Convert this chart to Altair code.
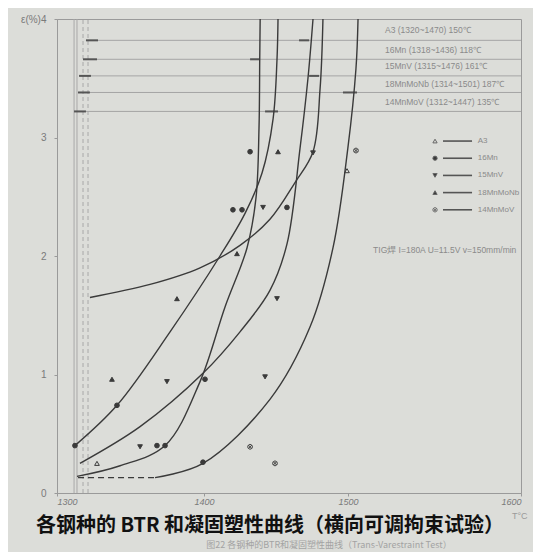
import altair as alt
import pandas as pd

# ---------------- data ----------------
# x: temperature T (°C), y: strain ε (%)
curve_a_T = [1312.2, 1340.8, 1376.9, 1411.1, 1428.5, 1440.3, 1448.0, 1450.7, 1451.4]
curve_a_e = [0.40, 0.74, 1.36, 2.00, 2.36, 2.70, 3.16, 3.66, 4.00]
curve_b_T = [1322.4, 1363.3, 1397.3, 1425.0, 1445.8, 1463.2, 1475.7, 1480.6, 1482.6]
curve_b_e = [1.65, 1.76, 1.90, 2.09, 2.31, 2.62, 2.88, 3.41, 4.00]
curve_c_T = [1315.6, 1356.5, 1399.3, 1425.0, 1445.8, 1457.6, 1466.7, 1472.2, 1475.7]
curve_c_e = [0.25, 0.56, 1.01, 1.36, 1.71, 2.10, 2.91, 3.50, 4.00]
curve_d_T = [1313.6, 1342.9, 1373.5, 1397.3, 1414.6, 1429.9, 1436.1, 1438.2, 1438.7, 1439.0]
curve_d_e = [0.14, 0.23, 0.40, 0.94, 1.57, 2.07, 2.49, 3.08, 3.66, 4.00]
curve_e_T = [1366.7, 1399.3, 1445.8, 1473.6, 1489.6, 1499.9, 1504.6, 1505.8]
curve_e_e = [0.13, 0.25, 0.79, 1.40, 2.07, 2.91, 3.58, 4.00]
dash_T = [1314.3, 1366.7]
dash_e = [0.13, 0.13]

series = ["A3", "16Mn", "15MnV", "18MnMoNb", "14MnMoV"]
pts_series = (["A3"] * 2 + ["16Mn"] * 10 + ["15MnV"] * 6 + ["18MnMoNb"] * 4 + ["14MnMoV"] * 3)
pts_T = [1327.2, 1499.3,
         1340.8, 1400.7, 1368.0, 1373.5, 1399.3, 1432.0, 1420.1, 1426.4, 1457.6, 1312.2,
         1374.8, 1442.4, 1356.5, 1475.7, 1450.7, 1441.0,
         1337.4, 1381.6, 1422.9, 1451.4,
         1432.0, 1504.6, 1449.3]
pts_e = [0.25, 2.72,
         0.74, 0.96, 0.40, 0.40, 0.26, 2.88, 2.39, 2.39, 2.41, 0.40,
         0.94, 0.98, 0.39, 2.87, 1.64, 2.41,
         0.96, 1.64, 2.02, 2.88,
         0.39, 2.89, 0.25]

# solidus marks (vertical lines)
sol_T = [1311.6, 1313.6, 1317.7, 1321.1]
sol_dash = [False, False, True, True]

# BTR rows
btr_e = [3.82, 3.66, 3.52, 3.38, 3.22]
btr_start1 = [1319.7, 1317.7, 1315.0, 1314.3, 1311.6]
btr_start2 = [1327.9, 1327.2, 1323.1, 1322.4, 1319.7]
btr_end1 = [1466.0, 1432.0, 1473.0, 1496.5, 1442.4]
btr_end2 = [1473.0, 1438.9, 1479.9, 1505.2, 1451.4]
btr_text = ["A3  (1320~1470)  150℃",
            "16Mn  (1318~1436)  118℃",
            "15MnV  (1315~1476)  161℃",
            "18MnMoNb  (1314~1501)  187℃",
            "14MnMoV  (1312~1447)  135℃"]
btr_text_e = [3.91, 3.74, 3.60, 3.45, 3.30]

note_text = "TIG焊  I=180A  U=11.5V  v=150mm/min"
caption = "各钢种的 BTR 和凝固塑性曲线（横向可调拘束试验）"
subcaption = "图22   各钢种的BTR和凝固塑性曲线（Trans-Varestraint  Test）"

x_ticks = [1300, 1400, 1500, 1600]
y_ticks = [0, 1, 2, 3, 4]

# ---------------- styling ----------------
BG = "#dcddd9"
INK = "#3a3a3a"
GREY = "#9a9a9a"
shapes = ["triangle-up", "circle", "triangle-down", "triangle-up",
          "M-1,0A1,1 0 1,0 1,0A1,1 0 1,0 -1,0M-0.7,-0.7L0.7,0.7M-0.7,0.7L0.7,-0.7"]
fills = ["transparent", INK, INK, INK, "transparent"]

H = 474
xscale = alt.Scale(domain=[1300, 1400, 1500, 1600], range=[0, 147, 291, 464], nice=False, zero=False)
yscale = alt.Scale(domain=[0, 4], nice=False, zero=False)

def X(f, **kw):
    return alt.X(f, scale=xscale, **kw)

def Y(f, **kw):
    return alt.Y(f, scale=yscale, **kw)

curves = []
for name, T, e in [("a", curve_a_T, curve_a_e), ("b", curve_b_T, curve_b_e),
                   ("c", curve_c_T, curve_c_e), ("d", curve_d_T, curve_d_e),
                   ("e", curve_e_T, curve_e_e)]:
    for i, (t, v) in enumerate(zip(T, e)):
        curves.append({"curve": name, "T": t, "e": v, "i": i})
curves_df = pd.DataFrame(curves)
dash_df = pd.DataFrame({"T": dash_T, "e": dash_e})
pts_df = pd.DataFrame({"series": pts_series, "T": pts_T, "e": pts_e})
sol_df = pd.DataFrame({"T": sol_T, "dash": sol_dash, "y0": 0, "y1": 4})
btr_df = pd.DataFrame({"e": btr_e, "s1": btr_start1, "s2": btr_start2,
                       "t1": btr_end1, "t2": btr_end2, "right": 1600})
btr_txt_df = pd.DataFrame({"txt": btr_text, "e": btr_text_e, "T": 1521.4})

legend_df = pd.DataFrame({"series": series,
                          "e": [2.97 - 0.145 * i for i in range(5)],
                          "Tm": 1550.3, "L1": 1554.9, "L2": 1571.7, "Tt": 1575.0})

axis_x = alt.Axis(values=x_ticks, title=None, grid=False, format="d", labelFontSize=9, labelFontStyle="italic",
                  labelColor="#7a7a7a", domainColor=GREY, tickColor=GREY, tickSize=3, labelPadding=1)
axis_y = alt.Axis(values=y_ticks, title=None, grid=False, labelFontSize=10, labelColor="#7a7a7a",
                  domainColor=GREY, tickColor=GREY, tickSize=3, labelPadding=8,
                  labelExpr="datum.value == 4 ? 'ε(%)4' : format(datum.value, 'd')")

base_axes = alt.Chart(pd.DataFrame({"T": [1300], "e": [0]})).mark_point(opacity=0).encode(
    x=X("T:Q", axis=axis_x), y=Y("e:Q", axis=axis_y))

sol_solid = alt.Chart(sol_df).transform_filter("!datum.dash").mark_rule(color="#a8a8a8", strokeWidth=1).encode(
    x=X("T:Q"), y=Y("y0:Q"), y2="y1:Q")
sol_dashed = alt.Chart(sol_df).transform_filter("datum.dash").mark_rule(color="#a8a8a8", strokeWidth=1, strokeDash=[4, 3]).encode(
    x=X("T:Q"), y=Y("y0:Q"), y2="y1:Q")

btr_lines = alt.Chart(btr_df).mark_rule(color="#a5a5a5", strokeWidth=1).encode(
    x=X("s2:Q"), x2="right:Q", y=Y("e:Q"))
btr_ticks1 = alt.Chart(btr_df).mark_rule(color="#555555", strokeWidth=2).encode(
    x=X("s1:Q"), x2="s2:Q", y=Y("e:Q"))
btr_ticks2 = alt.Chart(btr_df).mark_rule(color="#555555", strokeWidth=2).encode(
    x=X("t1:Q"), x2="t2:Q", y=Y("e:Q"))
btr_txt = alt.Chart(btr_txt_df).mark_text(align="left", baseline="middle", fontSize=8.5, color="#8a8a8a").encode(
    x=X("T:Q"), y=Y("e:Q"), text="txt:N")

curve_lines = alt.Chart(curves_df).mark_line(color=INK, strokeWidth=1.4, interpolate="catmull-rom").encode(
    x=X("T:Q"), y=Y("e:Q"), detail="curve:N", order="i:Q")
dash_line = alt.Chart(dash_df).mark_line(color=INK, strokeWidth=1.4, strokeDash=[6, 4]).encode(
    x=X("T:Q"), y=Y("e:Q"))

shape_enc = alt.Shape("series:N", scale=alt.Scale(domain=series, range=shapes), legend=None)
fill_enc = alt.Fill("series:N", scale=alt.Scale(domain=series, range=fills), legend=None)

points = alt.Chart(pts_df).mark_point(size=22, stroke=INK, strokeWidth=1, opacity=1, fillOpacity=1).encode(
    x=X("T:Q"), y=Y("e:Q"), shape=shape_enc, fill=fill_enc)

leg_marks = alt.Chart(legend_df).mark_point(size=18, stroke="#666", strokeWidth=1, fillOpacity=1).encode(
    x=X("Tm:Q"), y=Y("e:Q"), shape=shape_enc,
    fill=alt.Fill("series:N", scale=alt.Scale(domain=series, range=fills), legend=None))
leg_lines = alt.Chart(legend_df).mark_rule(color="#555", strokeWidth=1.6).encode(
    x=X("L1:Q"), x2="L2:Q", y=Y("e:Q"))
leg_text = alt.Chart(legend_df).mark_text(align="left", baseline="middle", fontSize=8, color="#8a8a8a").encode(
    x=X("Tt:Q"), y=Y("e:Q"), text="series:N")

note = alt.Chart(pd.DataFrame({"t": [note_text], "T": [1514.5], "e": [2.05]})).mark_text(
    align="left", baseline="middle", fontSize=8.5, color="#8a8a8a").encode(
    x=X("T:Q"), y=Y("e:Q"), text="t:N")

cap = alt.Chart(pd.DataFrame({"t": [caption]})).mark_text(
    font="Noto Sans CJK SC", fontWeight="bold", fontSize=20, color="#111", align="center", baseline="middle").encode(
    x=alt.value(213), y=alt.value(507), text="t:N")
subcap = alt.Chart(pd.DataFrame({"t": [subcaption]})).mark_text(
    font="Noto Sans CJK SC", fontSize=9, color="#a3a3a3", align="center", baseline="middle").encode(
    x=alt.value(272), y=alt.value(526), text="t:N")
tlabel = alt.Chart(pd.DataFrame({"t": ["T°C"]})).mark_text(
    fontSize=9, color="#9a9a9a", align="left", baseline="middle").encode(
    x=alt.value(455), y=alt.value(497), text="t:N")

chart = alt.layer(
    base_axes, sol_solid, sol_dashed, btr_lines, btr_ticks1, btr_ticks2, btr_txt,
    curve_lines, dash_line, points, leg_lines, leg_marks, leg_text, note, tlabel, cap, subcap
).properties(
    width=464, height=H,
    padding={"left": 49, "top": 11, "right": 12, "bottom": 544 - 11 - H},
    autosize=alt.AutoSizeParams(type="none"),
    background=BG,
).configure_view(stroke=GREY, strokeWidth=1)

chart.save("out.html", embed_options={"renderer": "svg", "actions": False})
